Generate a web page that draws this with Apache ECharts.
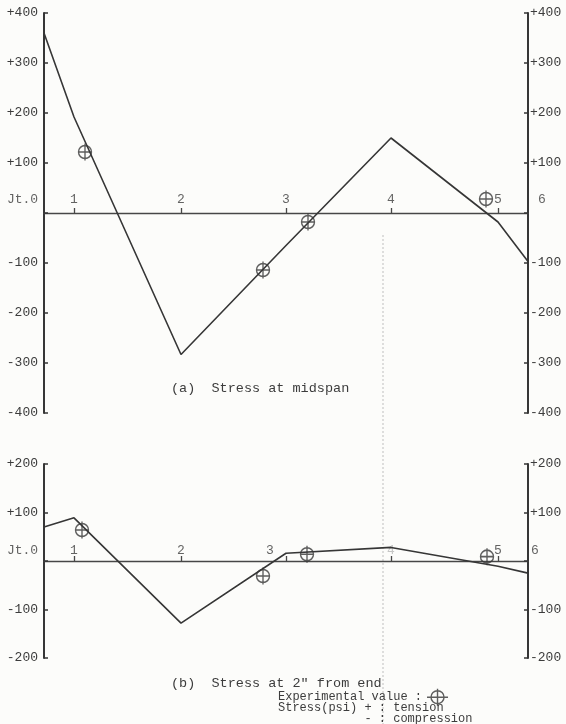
<!DOCTYPE html>
<html>
<head>
<meta charset="utf-8">
<script src="https://cdn.jsdelivr.net/npm/echarts@6/dist/echarts.min.js"></script>
<style>
  html, body { margin: 0; padding: 0; background: #fcfcfa; }
  #chart { width: 566px; height: 724px; }
</style>
</head>
<body>
<div id="chart"></div>
<script>
// Truss joint stations along the span (station units), Jt.0 ... Jt.6
const jointPos   = [0, 3.0, 13.7, 24.2, 34.7, 45.4, 48.4];
const jointNames = ['Jt.0', '1', '2', '3', '4', '5', '6'];

// (a) Stress at midspan: computed stress at each joint station (psi)
const midspanCalc = [360, 192, -283, -65, 150, -18, -97];
// (a) experimental readings
const midspanExpX = [4.1, 21.9, 26.4, 44.2];
const midspanExpY = [122, -114, -18, 28];

// (b) Stress at 2" from end: computed stress at each joint station (psi)
const endCalc = [70, 89, -128, 16, 28, -11, -25];
// (b) experimental readings
const endExpX = [3.8, 21.9, 26.3, 44.3];
const endExpY = [64, -31, 14, 9];

// Stress axis tick values
const ticksA = [-400, -300, -200, -100, 0, 100, 200, 300, 400];
const ticksB = [-200, -100, 0, 100, 200];

const MONO = "'Liberation Mono', 'DejaVu Sans Mono', monospace";
const INK = '#363636';
const TEXT = '#3c3c3c';

// Circle-with-crosshair marker for experimental values
const crossCircle = 'path://M0.5,8.5 A6.5,6.5 0 1,1 13.5,8.5 A6.5,6.5 0 1,1 0.5,8.5 Z M7,0 L7,17 M0,8.5 L14,8.5';
const legendMark = 'path://M4,8.5 A6.5,6.5 0 1,1 17,8.5 A6.5,6.5 0 1,1 4,8.5 Z M10.5,0 L10.5,17 M0,8.5 L21,8.5';

const pairs = (xs, ys) => xs.map((x, i) => [x, ys[i]]);

function stressAxis(gridIndex, position, ticks) {
  return {
    type: 'value', gridIndex, position,
    min: ticks[0], max: ticks[ticks.length - 1], interval: 100,
    axisLine: { show: true, onZero: false, lineStyle: { color: INK, width: 2 } },
    axisTick: { show: true, inside: true, length: 4, customValues: ticks,
                lineStyle: { color: INK, width: 1.5 } },
    axisLabel: {
      customValues: ticks,
      margin: position === 'left' ? 6 : 2,
      fontFamily: MONO, fontSize: 13, color: TEXT,
      formatter: v => v === 0 ? '' : (v > 0 ? '+' + v : String(v))
    },
    splitLine: { show: false }
  };
}

// Joint axis: line at zero stress with short upward ticks at the interior joints
function jointAxis(gridIndex) {
  return {
    type: 'value', gridIndex,
    min: jointPos[0], max: jointPos[jointPos.length - 1],
    axisLine: { onZero: true, lineStyle: { color: '#474747', width: 1.3 } },
    axisTick: { show: true, inside: true, length: 5, customValues: jointPos.slice(1, 6),
                lineStyle: { color: '#474747', width: 1.3 } },
    axisLabel: { show: false },
    splitLine: { show: false }
  };
}

// Joint name labels sitting just above the zero line; shifts nudge single labels sideways
function jointLabels(axisIndex, yAxisIndex, distance, shifts, faint) {
  return {
    type: 'scatter', xAxisIndex: axisIndex, yAxisIndex, silent: true,
    symbol: 'circle', symbolSize: 1,
    itemStyle: { color: 'rgba(0,0,0,0)' },
    label: { show: true },
    data: jointPos.map((x, i) => ({
      value: [x, 0],
      label: {
        show: true, position: 'top', distance,
        formatter: jointNames[i],
        offset: [shifts[i] || 0, 0],
        fontFamily: MONO, fontSize: 13,
        color: faint.indexOf(i) >= 0 ? '#b8b8b8' : TEXT
      }
    }))
  };
}

const lineStyle = { color: INK, width: 1.6 };
const expStyle = { color: 'rgba(0,0,0,0)', borderColor: INK, borderWidth: 1.5 };

const chart = echarts.init(document.getElementById('chart'), null, { renderer: 'canvas' });
chart.setOption({
  backgroundColor: '#fcfcfa',
  animation: false,
  grid: [
    { left: 44, top: 13, width: 484, height: 400 },
    { left: 44, top: 464, width: 484, height: 194 }
  ],
  xAxis: [jointAxis(0), jointAxis(1)],
  yAxis: [
    stressAxis(0, 'left', ticksA),
    stressAxis(0, 'right', ticksA),
    stressAxis(1, 'left', ticksB),
    stressAxis(1, 'right', ticksB)
  ],
  title: [
    { text: '(a)  Stress at midspan', left: 171, top: 381, padding: 0,
      textStyle: { fontFamily: MONO, fontSize: 13.5, fontWeight: 'normal', color: TEXT } },
    { text: '(b)  Stress at 2" from end', left: 171, top: 676, padding: 0,
      textStyle: { fontFamily: MONO, fontSize: 13.5, fontWeight: 'normal', color: TEXT } }
  ],
  legend: {
    data: ['Experimental value :'],
    left: 278, top: 688, padding: 0, align: 'right', selectedMode: false,
    icon: legendMark, itemWidth: 21, itemHeight: 17, itemGap: 0,
    itemStyle: { color: 'rgba(0,0,0,0)', borderColor: INK, borderWidth: 1.4 },
    textStyle: { fontFamily: MONO, fontSize: 12, color: TEXT }
  },
  graphic: [
    { type: 'text', left: 278, top: 702,
      style: { text: 'Stress(psi) + : tension\n            - : compression',
               font: "12px 'Liberation Mono', monospace", fill: TEXT, lineHeight: 11 } },
    { type: 'line', silent: true, z: -1,
      shape: { x1: 383, y1: 235, x2: 383, y2: 724 },
      style: { stroke: '#bdbdbd', lineWidth: 1, lineDash: [2, 2] } }
  ],
  series: [
    { type: 'line', xAxisIndex: 0, yAxisIndex: 0, symbol: 'none', lineStyle,
      data: pairs(jointPos, midspanCalc) },
    { name: 'Experimental value :', type: 'scatter', xAxisIndex: 0, yAxisIndex: 0,
      symbol: crossCircle, symbolSize: [14, 17], itemStyle: expStyle,
      data: pairs(midspanExpX, midspanExpY) },
    { type: 'line', xAxisIndex: 1, yAxisIndex: 2, symbol: 'none', lineStyle,
      data: pairs(jointPos, endCalc) },
    { name: 'Experimental value :', type: 'scatter', xAxisIndex: 1, yAxisIndex: 2,
      symbol: crossCircle, symbolSize: [14, 17], itemStyle: expStyle,
      data: pairs(endExpX, endExpY) },
    jointLabels(0, 0, 6, { 0: -21.5, 6: 14 }, []),
    jointLabels(1, 2, 3, { 0: -21.5, 3: -16, 6: 7 }, [4])
  ]
});
</script>
</body>
</html>
